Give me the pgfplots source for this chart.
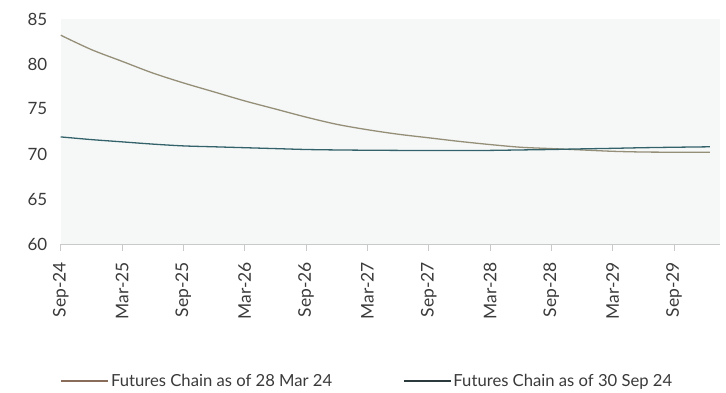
\documentclass[border=0pt]{standalone}
\usepackage{fontspec}
\setmainfont{Lato}
\usepackage{pgfplots}
\pgfplotsset{compat=1.18}
\definecolor{tanl}{HTML}{958F78}
\definecolor{teall}{HTML}{33626A}
\definecolor{legA}{HTML}{8A6C5A}
\definecolor{legB}{HTML}{2B3A3C}
\definecolor{bgc}{HTML}{F6F8F8}
\definecolor{txt}{HTML}{3A3A3A}
\definecolor{axc}{HTML}{C8CACA}
\begin{document}
\begin{tikzpicture}
\useasboundingbox (0,0) rectangle (726bp,393bp);
\begin{axis}[
  at={(60.7bp,149bp)}, anchor=south west,
  scale only axis, width=659.3bp, height=225bp,
  xmin=0, xmax=64.5, ymin=60, ymax=85,
  axis background/.style={fill=bgc},
  axis lines=left,
  axis line style={-},
  y axis line style={draw=none},
  x axis line style={axc, line width=0.8pt},
  xtick={0,6,...,60},
  xticklabels={Sep-24,Mar-25,Sep-25,Mar-26,Sep-26,Mar-27,Sep-27,Mar-28,Sep-28,Mar-29,Sep-29},
  ytick={60,65,...,85},
  tick align=outside,
  major tick length=7bp,
  xtick style={axc, line width=0.8pt},
  ytick style={draw=none},
  /pgf/number format/assume math mode=true,
  xticklabel shift=7.5bp,
  xticklabel style={rotate=90, anchor=east, font=\fontsize{17.5}{17.5}\selectfont, text=txt},
  yticklabel style={font=\fontsize{17}{17}\selectfont, text=txt, xshift=-3bp},
  legend columns=2,
  legend style={at={(axis description cs:0,0)}, anchor=west, yshift=-137bp, draw=none, fill=none, inner sep=0pt,
    font=\fontsize{16.7}{16.7}\selectfont, text=txt,
    /tikz/every even column/.append style={column sep=69bp}},
  legend image code/.code={\draw[#1] (0bp,0bp) -- (47bp,0bp);},
]
\addplot[tanl, line width=1.3pt, smooth, forget plot] coordinates {
(0,83.2)(3,81.6)(6,80.3)(9,79.0)(12,77.9)(15,76.9)(18,75.9)(21,75.0)(24,74.1)(27,73.3)(30,72.7)(33,72.2)(36,71.8)(39,71.4)(42,71.05)(45,70.75)(48,70.6)(51,70.45)(54,70.3)(57,70.22)(60,70.2)(63.5,70.2)
};
\addplot[teall, line width=1.3pt, smooth, forget plot] coordinates {
(0,71.9)(3,71.6)(6,71.35)(9,71.1)(12,70.9)(15,70.8)(18,70.7)(21,70.6)(24,70.5)(27,70.45)(30,70.42)(33,70.4)(36,70.38)(39,70.38)(42,70.4)(45,70.45)(48,70.5)(51,70.57)(54,70.63)(57,70.7)(60,70.75)(63.5,70.8)
};
\addlegendimage{legA, line width=1.2pt}
\addlegendentry{Futures Chain as of 28 Mar 24}
\addlegendimage{legB, line width=1.2pt}
\addlegendentry{Futures Chain as of 30 Sep 24}
\end{axis}
\end{tikzpicture}
\end{document}
